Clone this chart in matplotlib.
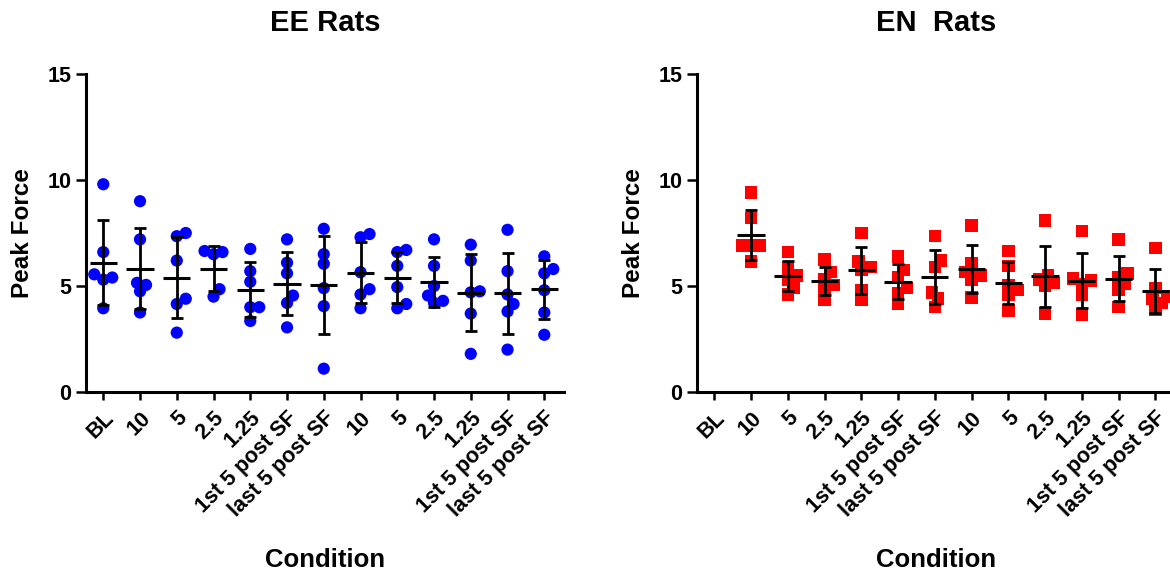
import numpy as np
import matplotlib
matplotlib.use("Agg")
import matplotlib.pyplot as plt

plt.rcParams['font.family'] = ['Liberation Sans', 'DejaVu Sans']
plt.rcParams['font.weight'] = 'bold'

conditions = ["BL", "10", "5", "2.5", "1.25", "1st 5 post SF", "last 5 post SF",
              "10", "5", "2.5", "1.25", "1st 5 post SF", "last 5 post SF"]

ee_values = [
    [9.8, 6.6, 5.55, 5.4, 5.3, 3.95],
    [9.0, 7.2, 5.15, 5.05, 4.75, 3.75],
    [7.5, 7.35, 6.2, 4.4, 4.15, 2.8],
    [6.65, 6.6, 6.5, 4.85, 4.5],
    [6.75, 5.7, 5.2, 4.0, 4.0, 3.35],
    [7.2, 6.1, 5.6, 4.55, 4.2, 3.05],
    [7.7, 6.5, 6.05, 4.9, 4.05, 1.1],
    [7.45, 7.3, 5.65, 4.85, 4.6, 3.95],
    [6.7, 6.6, 5.95, 4.95, 4.15, 3.95],
    [7.2, 5.95, 5.0, 4.55, 4.3, 4.2],
    [6.95, 6.2, 4.75, 4.7, 3.7, 1.8],
    [7.65, 5.7, 4.6, 4.15, 3.8, 2.0],
    [6.4, 5.8, 5.6, 4.8, 3.75, 2.7],
]

en_values = [
    [],
    [9.4, 8.2, 6.9, 6.9, 6.9, 6.15],
    [6.6, 5.9, 5.5, 5.3, 4.9, 4.6],
    [6.25, 5.65, 5.3, 5.05, 4.8, 4.35],
    [7.5, 6.15, 5.9, 5.75, 4.8, 4.35],
    [6.4, 5.75, 5.4, 4.9, 4.65, 4.15],
    [7.35, 6.2, 5.9, 4.7, 4.4, 4.0],
    [7.85, 6.05, 5.65, 5.5, 5.3, 4.45],
    [6.65, 5.95, 5.05, 4.8, 4.6, 3.85],
    [8.1, 5.5, 5.3, 5.15, 5.0, 3.7],
    [7.6, 5.35, 5.25, 5.1, 4.6, 3.65],
    [7.2, 5.6, 5.4, 5.1, 4.8, 4.0],
    [6.8, 4.9, 4.5, 4.4, 4.2, 3.9],
]

W, H = 1170, 575
fig = plt.figure(figsize=(W / 100, H / 100), dpi=100)


def swarm_positions(ax, xc, vals, min_dist=8.5, step=3.0):
    if len(vals) == 0:
        return np.array([]), np.array([])
    vals = np.asarray(vals, dtype=float)
    pix = ax.transData.transform(np.column_stack([np.full(len(vals), xc), vals]))
    order = np.argsort(vals)
    placed = []
    out = np.zeros_like(pix)
    for i in order:
        px, py = pix[i]
        for k in range(0, 40):
            if k == 0:
                off = 0.0
            else:
                off = ((k + 1) // 2) * step * (1 if k % 2 else -1)
            cand = (px + off, py)
            if all(np.hypot(cand[0] - a, cand[1] - b) >= min_dist for a, b in placed):
                break
        placed.append(cand)
        out[i] = cand
    data = ax.transData.inverted().transform(out)
    return data[:, 0], data[:, 1]


def make_panel(left_px, values, color, marker, ms, title):
    ax = fig.add_axes([left_px / W, 1 - 392 / H, 478.5 / W, 318 / H])
    ax.set_xlim(-0.47, 12.55)
    ax.set_ylim(0, 15)
    for s in ['top', 'right']:
        ax.spines[s].set_visible(False)
    for s in ['left', 'bottom']:
        ax.spines[s].set_linewidth(2.2)
    ax.set_yticks([0, 5, 10, 15])
    ax.set_yticklabels(['0', '5', '10', '15'], fontsize=15.5, fontweight='bold')
    x = np.arange(len(conditions))
    ax.set_xticks(x)
    ax.set_xticklabels(conditions, rotation=45, ha='right', rotation_mode='anchor',
                       fontsize=15.5, fontweight='bold')
    ax.tick_params(axis='y', length=7.5, width=1.8, pad=3)
    ax.tick_params(axis='x', length=6, width=1.8, pad=5)

    for i, vals in enumerate(values):
        if len(vals) == 0:
            continue
        xs, ys = swarm_positions(ax, i, vals)
        ax.scatter(xs, ys, s=ms ** 2, marker=marker, color=color, edgecolors='none',
                   zorder=2, clip_on=False)
        m = np.mean(vals)
        sd = np.std(vals, ddof=1)
        ax.errorbar([i], [m], yerr=[sd], fmt='none', ecolor='black', elinewidth=2.0,
                    capsize=4.3, capthick=2.0, zorder=3)
        ax.hlines(m, i - 0.37, i + 0.37, color='black', lw=2.2, zorder=3)

    ax.set_ylabel('Peak Force', fontsize=17.5, fontweight='bold', va='center')
    ax.yaxis.set_label_coords(-63 / 478.5, 0.5)
    ax.set_xlabel('Condition', fontsize=18.5, fontweight='bold', va='center')
    ax.xaxis.set_label_coords(0.5, -168 / 318)
    ax.text(0.5, 1 + 51 / 318, title, transform=ax.transAxes, ha='center', va='center',
            fontsize=21, fontweight='bold')
    return ax


make_panel(86, ee_values, '#0000FF', 'o', 8.8, 'EE Rats')
make_panel(697, en_values, '#FF0000', 's', 9.0, 'EN  Rats')

fig.savefig('out.png', dpi=100)
